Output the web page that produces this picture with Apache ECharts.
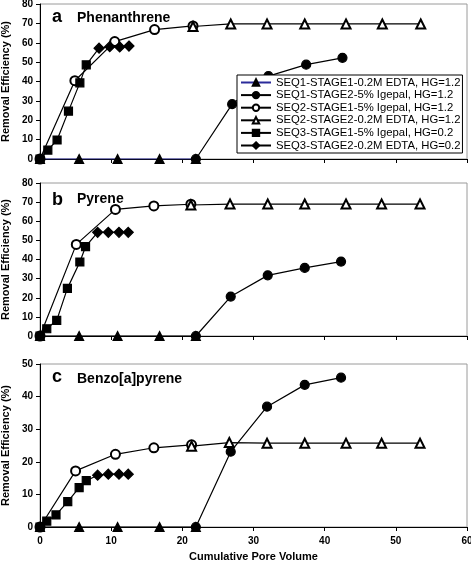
<!DOCTYPE html>
<html><head><meta charset="utf-8">
<script src="https://cdn.jsdelivr.net/npm/echarts@6/dist/echarts.min.js"></script>
<style>html,body{margin:0;padding:0;background:#fff}#c{width:471px;height:565px}</style>
</head><body><div id="c"></div><script>
const seriesNames = [
  'SEQ1-STAGE1-0.2M EDTA, HG=1.2',
  'SEQ1-STAGE2-5% Igepal, HG=1.2',
  'SEQ2-STAGE1-5% Igepal, HG=1.2',
  'SEQ2-STAGE2-0.2M EDTA, HG=1.2',
  'SEQ3-STAGE1-5% Igepal, HG=0.2',
  'SEQ3-STAGE2-0.2M EDTA, HG=0.2'
];
const panelLetters = ['a', 'b', 'c'];
const panelTitles = ['Phenanthrene', 'Pyrene', 'Benzo[a]pyrene'];
const yMaxes = [80, 80, 50];
const xAxisTitle = 'Cumulative Pore Volume';
const yAxisTitle = 'Removal Efficiency (%)';

// Panel a: Phenanthrene
const a_seq1s1 = [[0,0],[5.5,0],[10.9,0],[16.8,0],[21.9,0]];
const a_seq1s2 = [[21.9,0],[27,28.3],[32.1,42.8],[37.4,48.7],[42.5,52.2]];
const a_seq2s1 = [[0,0],[4.9,40.4],[10.5,60.6],[16.1,66.8],[21.5,68.7]];
const a_seq2s2 = [[21.5,68.4],[26.8,69.7],[31.9,69.7],[37.2,69.7],[43,69.7],[48.1,69.7],[53.5,69.7]];
const a_seq3s1 = [[0,0],[1.1,4.6],[2.4,9.8],[4.0,24.7],[5.6,39.3],[6.5,48.6]];
const a_seq3s2 = [[6.5,48.6],[8.3,57.2],[9.8,58],[11.2,57.8],[12.5,58.3]];

// Panel b: Pyrene
const b_seq1s1 = [[0,0],[5.5,0],[10.9,0],[16.8,0],[21.9,0]];
const b_seq1s2 = [[21.9,0],[26.8,20.6],[32.0,31.7],[37.2,35.6],[42.3,38.9]];
const b_seq2s1 = [[0,0],[5.1,47.9],[10.6,66.2],[16.0,68.0],[21.2,68.9]];
const b_seq2s2 = [[21.2,68.5],[26.7,69],[32.0,69],[37.2,69],[43,69],[48,69],[53.4,69]];
const b_seq3s1 = [[0,0],[0.95,3.8],[2.35,8.2],[3.85,24.9],[5.6,38.7],[6.4,46.7]];
const b_seq3s2 = [[6.4,46.7],[8.1,54.2],[9.6,54.2],[11.1,54.2],[12.4,54.2]];

// Panel c: Benzo[a]pyrene
const c_seq1s1 = [[0,0],[5.5,0],[10.9,0],[16.8,0],[21.9,0]];
const c_seq1s2 = [[21.9,0],[26.8,23.1],[31.9,36.9],[37.2,43.6],[42.3,45.8]];
const c_seq2s1 = [[0,0],[5.0,17.2],[10.6,22.3],[16.0,24.3],[21.3,25.2]];
const c_seq2s2 = [[21.3,24.8],[26.6,25.9],[31.9,25.7],[37.2,25.7],[43,25.7],[48,25.7],[53.4,25.7]];
const c_seq3s1 = [[0,0],[0.95,1.8],[2.25,3.7],[3.9,7.8],[5.5,12.1],[6.5,14.2]];
const c_seq3s2 = [[6.5,14.2],[8.1,15.9],[9.6,16.2],[11.1,16.2],[12.4,16.2]];

const panelData = [
  [a_seq1s1, a_seq1s2, a_seq2s1, a_seq2s2, a_seq3s1, a_seq3s2],
  [b_seq1s1, b_seq1s2, b_seq2s1, b_seq2s2, b_seq3s1, b_seq3s2],
  [c_seq1s1, c_seq1s2, c_seq2s1, c_seq2s2, c_seq3s1, c_seq3s2]
];

const FONT = 'Arial, "Liberation Sans", sans-serif';
const gridTops = [4, 183, 364];
const gridHeights = [155, 153, 163];
const symbols = ['triangle', 'circle', 'emptyCircle', 'emptyTriangle', 'rect', 'diamond'];
const symbolSizes = [9, 9, 9, 9, 8, 10];

const grids = [], xAxes = [], yAxes = [], series = [], graphics = [];
for (let p = 0; p < 3; p++) {
  grids.push({left: 40, right: 4, top: gridTops[p], height: gridHeights[p], show: true,
    containLabel: false, outerBoundsMode: 'none',
    borderColor: '#9a9a9a', borderWidth: 1, backgroundColor: '#fff'});
  xAxes.push({type: 'value', gridIndex: p, min: 0, max: 60, interval: 10,
    axisLine: {show: true, onZero: false, lineStyle: {color: '#000', width: 1}},
    axisTick: {show: true, length: 4, lineStyle: {color: '#000'}},
    axisLabel: {show: p === 2, color: '#000', fontFamily: FONT, fontWeight: 'bold', fontSize: 10, margin: 9},
    splitLine: {show: false},
    name: p === 2 ? xAxisTitle : '', nameLocation: 'middle', nameGap: 24,
    nameTextStyle: {color: '#000', fontFamily: FONT, fontWeight: 'bold', fontSize: 11}});
  yAxes.push({type: 'value', gridIndex: p, min: 0, max: yMaxes[p], interval: 10,
    axisLine: {show: true, lineStyle: {color: '#000', width: 1}},
    axisTick: {show: true, length: 4, lineStyle: {color: '#000'}},
    axisLabel: {color: '#000', fontFamily: FONT, fontWeight: 'bold', fontSize: 10, margin: 7},
    splitLine: {show: false},
    name: yAxisTitle, nameLocation: 'middle', nameGap: 26,
    nameTextStyle: {color: '#000', fontFamily: FONT, fontWeight: 'bold', fontSize: 11}});
  for (let k = 0; k < 6; k++) {
    const raw = panelData[p][k];
    const data = raw.map((v, i) => (k === 5 && i === 0) ? {value: v, symbol: 'none'} : v);
    series.push({type: 'line', name: seriesNames[k], xAxisIndex: p, yAxisIndex: p,
      data: data, symbol: symbols[k], symbolSize: symbolSizes[k], showAllSymbol: true,
      animation: false, z: 2 + k * 0.01,
      itemStyle: {color: '#000', borderColor: '#000', borderWidth: 1.2},
      lineStyle: {color: (k === 0 && p === 0) ? '#2b2b9a' : '#000', width: 1.2}});
  }
}
const letterY = [17, 200, 377];
const titleY = [18, 199, 379];
for (let p = 0; p < 3; p++) {
  graphics.push({type: 'text', x: 52, y: letterY[p], z: 10,
    style: {text: panelLetters[p], font: 'bold 18px ' + FONT, fill: '#000', verticalAlign: 'middle'}});
  graphics.push({type: 'text', x: 77, y: titleY[p], z: 10,
    style: {text: panelTitles[p], font: 'bold 14px ' + FONT, fill: '#000', verticalAlign: 'middle'}});
}

const chart = echarts.init(document.getElementById('c'), null, {renderer: 'canvas'});
chart.setOption({
  animation: false,
  backgroundColor: '#fff',
  grid: grids, xAxis: xAxes, yAxis: yAxes, series: series, graphic: graphics,
  legend: {data: seriesNames, orient: 'vertical', left: 237, top: 75,
    itemWidth: 30, itemHeight: 8, itemGap: 1.6, padding: [2, 2, 2, 3],
    backgroundColor: '#fff', borderColor: '#000', borderWidth: 1, borderRadius: 0,
    textStyle: {color: '#000', fontFamily: FONT, fontSize: 11.3, lineHeight: 11}}
});
</script></body></html>
